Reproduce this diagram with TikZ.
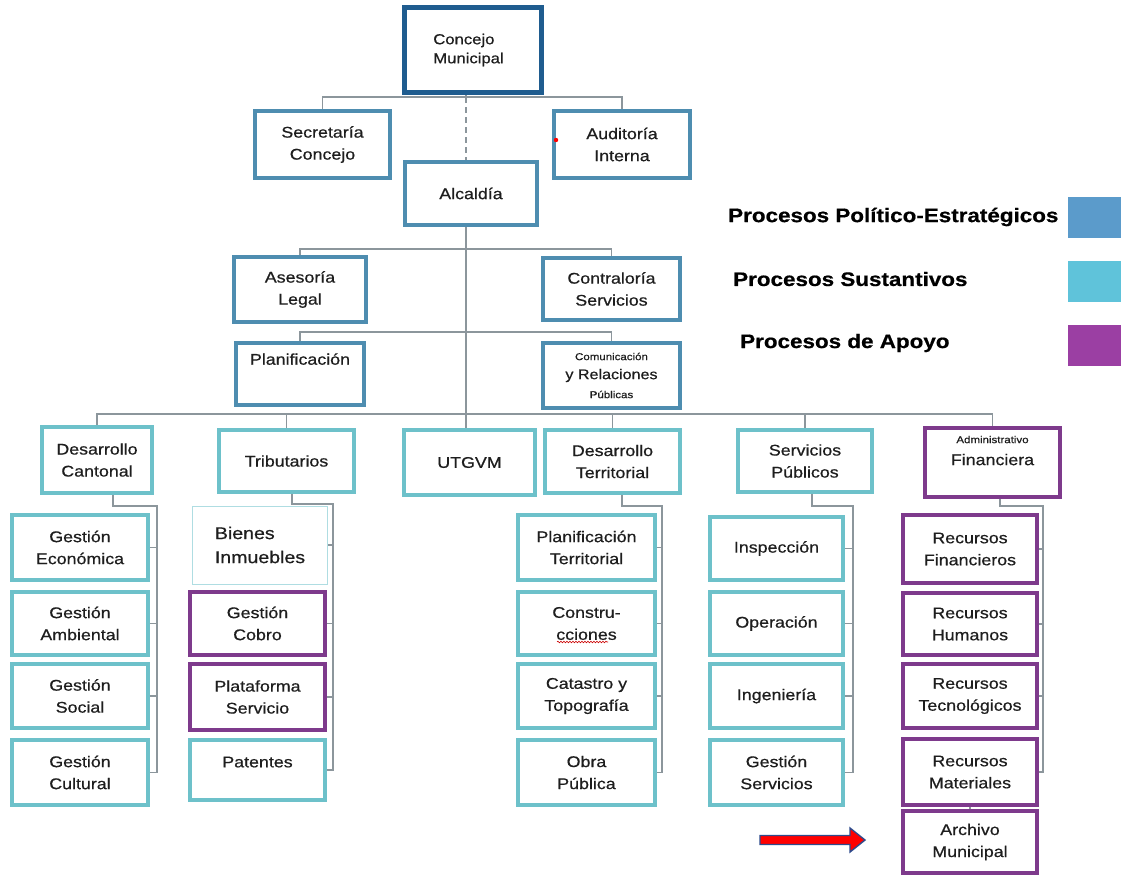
\documentclass[tikz,border=0pt]{standalone}
\usepackage{fontspec}
\setmainfont{Liberation Sans}[FakeStretch=1.15, FakeBold=0.6]
\usetikzlibrary{decorations.pathmorphing}
\definecolor{cpe}{HTML}{4E8DB0}
\definecolor{cconc}{HTML}{1F5C8F}
\definecolor{csus}{HTML}{6DC1CA}
\definecolor{capo}{HTML}{7E3A8C}
\definecolor{cline}{HTML}{8C969C}
\definecolor{ctxt}{HTML}{1E1E1E}
\definecolor{lpe}{HTML}{5B9BCB}
\definecolor{lsus}{HTML}{5FC3DA}
\definecolor{lapo}{HTML}{9B3FA3}
\definecolor{carrow}{HTML}{2E4A8C}
\begin{document}
\begin{tikzpicture}[x=1pt,y=-1pt,
  box/.style={draw, rectangle, fill=white, line width=3.8pt, align=center, text=ctxt, inner sep=2pt, font=\fontsize{15.5}{22}\selectfont},
  pe/.style={box, draw=cpe},
  sus/.style={box, draw=csus},
  apo/.style={box, draw=capo},
  link/.style={draw=cline, line width=1.6pt},
  sz/.style 2 args={minimum width=#1, minimum height=#2},
  leg/.style={anchor=west, font=\bfseries\fontsize{19.5}{22}\selectfont, text=black, inner sep=0pt},
  legbox/.style={draw=none, minimum width=53, minimum height=41, inner sep=0pt, anchor=north west}
]
\useasboundingbox (0,0) rectangle (1121,875);
\fill[white] (0,0) rectangle (1121,875);

% legend
\node[leg] (lt1) at (728,217) {Procesos Político-Estratégicos};
\node[leg] (lt2) at (733,279) {Procesos Sustantivos};
\node[leg] (lt3) at (740,343) {Procesos de Apoyo};
\node[legbox, fill=lpe] (lb1) at (1068,197) {};
\node[legbox, fill=lsus] (lb2) at (1068,261) {};
\node[legbox, fill=lapo] (lb3) at (1068,325) {};

% top levels
\node[box, draw=cconc, line width=5pt, sz={137}{84}, align=left, font=\fontsize{14.5}{19}\selectfont] (concejo) at (472.5,50) {Concejo\\Municipal\hspace*{8pt}};
\node[pe, sz={135}{67}] (secret) at (322.5,144.5) {Secretaría\\Concejo};
\node[pe, sz={136}{67}] (audit) at (622,144.5) {Auditoría\\Interna};
\node[pe, sz={132}{63}] (alcal) at (471,193.5) {Alcaldía};
\node[pe, sz={132}{65}] (asesor) at (300,289.5) {Asesoría\\Legal};
\node[pe, sz={137}{62}] (contral) at (611.5,289) {Contraloría\\Servicios};
\node[pe, sz={128}{62}] (planif) at (300,374) {Planificación\\[8pt]\mbox{}};
\node[pe, sz={137}{65}, font=\fontsize{14}{19}\selectfont] (comun) at (611.5,375.5) {{\fontsize{10}{12}\selectfont Comunicación}\\y Relaciones\\{\fontsize{10}{12}\selectfont Públicas}};

% second row
\node[sus, sz={110}{66}] (dcant) at (97,460) {Desarrollo\\Cantonal};
\node[sus, sz={135}{62}] (tribut) at (286.5,461) {Tributarios};
\node[sus, sz={131}{65}] (utgvm) at (469.5,462.5) {UTGVM};
\node[sus, sz={135}{63}] (dterr) at (612.5,461.5) {Desarrollo\\Territorial};
\node[sus, sz={134}{62}] (servp) at (805,461) {Servicios\\Públicos};
\node[apo, sz={135}{69}] (admfin) at (992.5,462.5) {{\fontsize{10}{12}\selectfont Administrativo}\\Financiera\\[2pt]\mbox{}};

% column 1
\node[sus, sz={136}{65}] (gecon) at (80,547.5) {Gestión\\Económica};
\node[sus, sz={136}{63}] (gamb) at (80,623.5) {Gestión\\Ambiental};
\node[sus, sz={136}{64}] (gsoc) at (80,696) {Gestión\\Social};
\node[sus, sz={136}{65}] (gcult) at (80,772.5) {Gestión\\Cultural};
% column 2
\node[box, draw=csus!55, line width=1pt, sz={135}{78}, align=left, font=\fontsize{17}{24}\selectfont] (bienes) at (260,545) {Bienes\\Inmuebles};
\node[apo, sz={135}{63}] (gcobro) at (257.5,623.5) {Gestión\\Cobro};
\node[apo, sz={135}{66}] (plataf) at (257.5,697) {Plataforma\\Servicio};
\node[sus, sz={135}{60}] (patent) at (257.5,770) {Patentes\\[-6pt]\mbox{}};
% column 3
\node[sus, sz={137}{65}] (planterr) at (586.5,547.5) {Planificación\\Territorial};
\node[sus, sz={137}{63}] (constr) at (586.5,623.5) {Constru-\\cciones};
\node[sus, sz={137}{64}] (catast) at (586.5,696) {Catastro y\\Topografía};
\node[sus, sz={137}{65}] (obra) at (586.5,772.5) {Obra\\Pública};
% column 4
\node[sus, sz={133}{63}] (insp) at (776.5,548.5) {Inspección};
\node[sus, sz={133}{63}] (oper) at (776.5,623.5) {Operación};
\node[sus, sz={133}{64}] (ingen) at (776.5,696) {Ingeniería};
\node[sus, sz={133}{65}] (gserv) at (776.5,772.5) {Gestión\\Servicios};
% column 5
\node[apo, sz={134}{68}] (recfin) at (970,549) {Recursos\\Financieros};
\node[apo, sz={134}{62}] (rechum) at (970,624) {Recursos\\Humanos};
\node[apo, sz={134}{64}] (rectec) at (970,696) {Recursos\\Tecnológicos};
\node[apo, sz={134}{66}] (recmat) at (970,772) {Recursos\\Materiales};
\node[apo, sz={134}{62}] (archivo) at (970,842) {Archivo\\Municipal};

% connectors top
\coordinate (j1) at (466,97);
\draw[link] (secret.north) |- (j1) -| (audit.north);
\draw[link] (j1) -- (j1 |- concejo.south);
\draw[link, dash pattern=on 6pt off 4pt] (j1) -- (j1 |- alcal.north);
\draw[link] (j1 |- alcal.south) -- (j1 |- utgvm.north);
\coordinate (j2) at (466,249);
\draw[link] (asesor.north) |- (j2) -| (contral.north);
\coordinate (j3) at (466,332);
\draw[link] (planif.north) |- (j3) -| (comun.north);
\coordinate (j4) at (466,414);
\draw[link] (dcant.north) |- (j4) -| (admfin.north);
\draw[link] (tribut.north) -- (tribut.north |- j4);
\draw[link] (dterr.north) -- (dterr.north |- j4);
\draw[link] (servp.north) -- (servp.north |- j4);

% brackets
\coordinate (r1) at (157,506);
\draw[link] ([xshift=16pt]dcant.south) |- (r1) -- (r1 |- gcult.east) -- (gcult.east);
\foreach \n in {gecon,gamb,gsoc} \draw[link] (\n.east) -- (\n.east -| r1);
\coordinate (r2) at (333,504);
\draw[link] ([xshift=5.5pt]tribut.south) |- (r2) -- (r2 |- patent.east) -- (patent.east);
\foreach \n in {bienes,gcobro,plataf} \draw[link] (\n.east) -- (\n.east -| r2);
\coordinate (r3) at (662,506);
\draw[link] ([xshift=9.5pt]dterr.south) |- (r3) -- (r3 |- obra.east) -- (obra.east);
\foreach \n in {planterr,constr,catast} \draw[link] (\n.east) -- (\n.east -| r3);
\coordinate (r4) at (853,506);
\draw[link] ([xshift=7pt]servp.south) |- (r4) -- (r4 |- gserv.east) -- (gserv.east);
\foreach \n in {insp,oper,ingen} \draw[link] (\n.east) -- (\n.east -| r4);
\coordinate (r5) at (1043,506);
\draw[link] ([xshift=7.5pt]admfin.south) |- (r5) -- (r5 |- recmat.east) -- (recmat.east);
\foreach \n in {recfin,rechum,rectec} \draw[link] (\n.east) -- (\n.east -| r5);
\draw[link] (recmat.south) -- (archivo.north);

% details
\fill[red] (556,140) circle (2.2pt);
\draw[red!80!black, line width=0.6pt, decorate, decoration={snake, amplitude=0.8pt, segment length=3pt}] (557,642) -- (608,642);
\draw[draw=carrow, fill=red, line width=1.4pt] (760,835.5) -- (850,835.5) -- (850,828) -- (865,840) -- (850,852) -- (850,844.5) -- (760,844.5) -- cycle;
\end{tikzpicture}
\end{document}
